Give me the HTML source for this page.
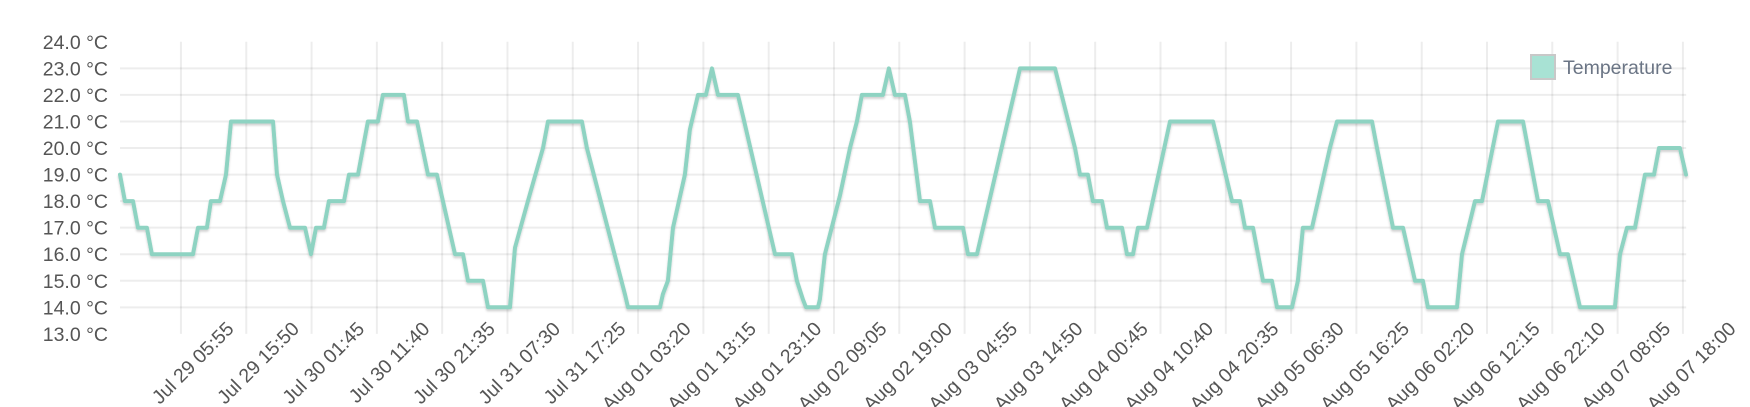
<!DOCTYPE html>
<html><head><meta charset="utf-8"><style>
html,body{margin:0;padding:0;background:#fff;}
svg{display:block;font-family:"Liberation Sans",Arial,sans-serif;}
</style></head><body>
<svg id="chart" width="1750" height="407" viewBox="0 0 1750 407" xmlns="http://www.w3.org/2000/svg">
<defs><filter id="sh" x="-5%" y="-5%" width="110%" height="120%"><feDropShadow dx="0" dy="2" stdDeviation="1" flood-color="#000" flood-opacity="0.18"/></filter></defs>
<g id="grid"></g>
<g id="yaxis"></g>
<g id="xaxis"></g>
<g id="series"></g>
<g>
<rect x="1531" y="55" width="24" height="24" fill="#a8e2d4" stroke="#c8c8c8" stroke-width="2"/>
<text x="1563" y="74" font-size="19.5" fill="#6b7585">Temperature</text>
</g>
</svg>
<script>
// hours since Jul 29 00:00
const hours = [
-3.34,-2.59,-1.37,-0.61,0.75,1.51,7.74,8.50,9.86,10.47,
11.84,12.75,13.51,19.89,20.50,21.41,22.47,24.75,25.66,26.42,
27.63,28.39,30.67,31.43,32.80,34.31,35.83,36.59,39.78,40.39,
41.76,43.43,44.79,47.53,48.74,49.50,51.78,52.54,55.88,56.64,
58.61,60.89,61.65,66.81,67.57,73.34,73.80,78.66,79.11,79.87,
80.63,82.45,83.21,84.43,85.64,86.56,87.47,90.50,91.26,96.12,
98.70,99.46,100.37,100.83,102.65,102.95,103.71,105.99,107.51,108.57,
109.33,112.52,113.43,114.34,115.86,116.62,118.14,119.66,120.42,124.67,
125.43,126.80,133.33,138.64,141.68,142.44,143.65,144.41,145.78,146.54,
148.82,149.58,150.49,151.25,152.62,156.11,162.64,165.52,166.74,167.50,
168.71,170.23,171.59,172.36,174.63,175.54,176.30,177.67,178.58,180.40,
181.47,186.78,187.54,189.97,191.49,193.31,194.52,195.28,199.69,200.45,
202.42,203.49,205.92,209.71,211.99,213.51,215.33,216.54,218.37,223.68,
224.44,225.51,226.72,228.24,229.61,230.37,233.55,234.47];
const temps = [
19,18,18,17,17,16,16,17,17,18,
18,19,21,21,19,18,17,17,16,17,
17,18,18,19,19,21,21,22,22,21,
21,19,19,16,16,15,15,14,14,16.25,
18,20,21,21,20,14.5,14,14,14.5,15,
17,19,20.7,22,22,23,22,22,21.2,16,
16,15,14.3,14,14,14.3,16,18.2,20,21,
22,22,23,22,22,21,18,18,17,17,
16,16,23,23,20,19,19,18,18,17,
17,16,16,17,17,21,21,18,18,17,
17,15,15,14,14,15,17,17,18,20,
21,21,20,17,17,15,15,14,14,16,
18,18,21,21,18,18,16,16,14,14,
16,17,17,19,19,20,20,19];
const yTicks = [13,14,15,16,17,18,19,20,21,22,23,24];
const xTickLabels = ["Jul 29 05:55","Jul 29 15:50","Jul 30 01:45","Jul 30 11:40","Jul 30 21:35","Jul 31 07:30","Jul 31 17:25","Aug 01 03:20","Aug 01 13:15","Aug 01 23:10","Aug 02 09:05","Aug 02 19:00","Aug 03 04:55","Aug 03 14:50","Aug 04 00:45","Aug 04 10:40","Aug 04 20:35","Aug 05 06:30","Aug 05 16:25","Aug 06 02:20","Aug 06 12:15","Aug 06 22:10","Aug 07 08:05","Aug 07 18:00"];
const xTickHours = [5.917,15.833,25.75,35.667,45.583,55.5,65.417,75.333,85.25,95.167,105.083,115,124.917,134.833,144.75,154.667,164.583,174.5,184.417,194.333,204.25,214.167,224.083,234];

const NS="http://www.w3.org/2000/svg";
const X0=120,X1=1686.2,H0=-3.34,H1=234.5;
const Y0=41.8,Y1=333.9,V0=24,V1=13;
function x(h){return X0+(h-H0)/(H1-H0)*(X1-X0);}
function y(v){return Y0+(V0-v)/(V0-V1)*(Y1-Y0);}
function el(t,a,p){const e=document.createElementNS(NS,t);for(const k in a)e.setAttribute(k,a[k]);p.appendChild(e);return e;}
const grid=document.getElementById('grid'),ya=document.getElementById('yaxis'),xa=document.getElementById('xaxis'),se=document.getElementById('series');
yTicks.forEach(v=>{
  if(v>13&&v<24){const l=el('line',{x1:X0,x2:X1,y1:y(v),y2:y(v),stroke:'rgba(0,0,0,0.07)','stroke-width':2},grid);
  
  }
  const t=el('text',{x:108,y:y(v)+7,'text-anchor':'end','font-size':19.5,fill:'#555'},ya);
  
  
  t.textContent=v.toFixed(1)+' °C';
});
xTickHours.forEach((h,i)=>{
  const px=x(h);
  const l=el('line',{x1:px,x2:px,y1:Y0,y2:Y1,stroke:'rgba(0,0,0,0.07)','stroke-width':2},grid);
  
  
  const ax=px+54,ay=330;
  const t=el('text',{x:ax,y:ay,'text-anchor':'end','font-size':19.5,fill:'#555',transform:'rotate(-45 '+ax+' '+ay+')'},xa);
  
  
  t.textContent=xTickLabels[i];
});
const d=hours.map((h,i)=>(i?'L':'M')+x(h).toFixed(1)+','+y(temps[i]).toFixed(1)).join(' ');
const p=el('path',{d:d,fill:'none',stroke:'#8ed3c2','stroke-width':4,'stroke-linejoin':'round','stroke-linecap':'round',filter:'url(#sh)'},se);


</script>
</body></html>
